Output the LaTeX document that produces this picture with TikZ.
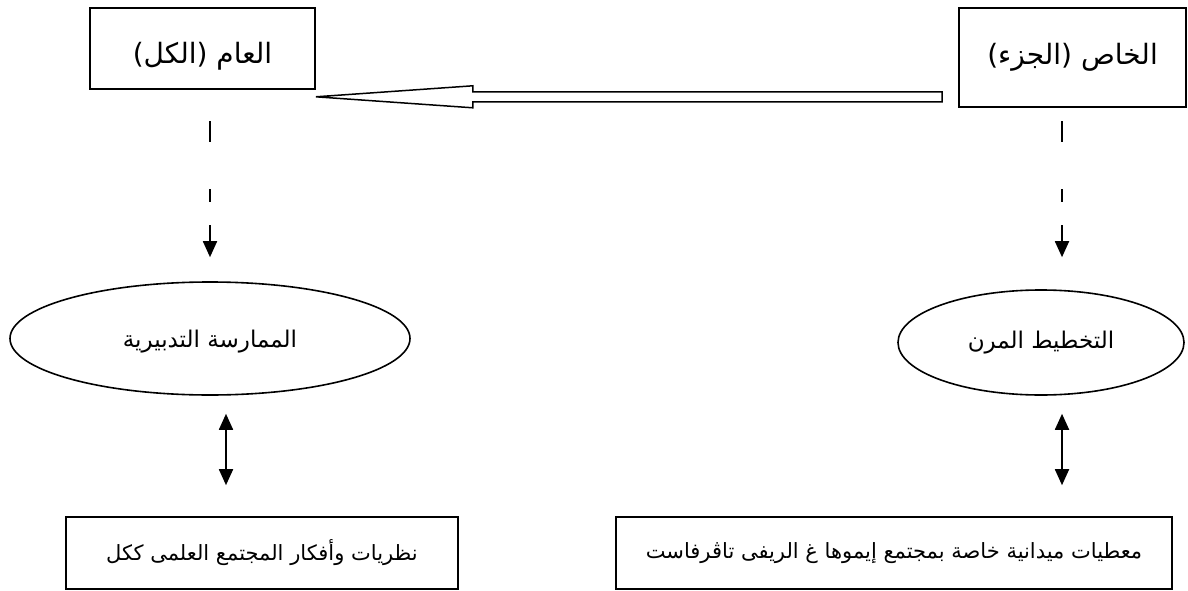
\documentclass[tikz,border=0pt]{standalone}
\usepackage{fontspec}
\newfontfamily\arabicfont[Script=Arabic]{DejaVu Sans}
\TeXXeTstate=1
\usetikzlibrary{arrows.meta,shapes.geometric}
\begin{document}
\begin{tikzpicture}[x=1pt,y=-1pt,
  topbox/.style={draw, line width=1.6pt, rectangle, inner sep=0pt, font=\arabicfont\fontsize{28}{32}\selectfont},
  botbox/.style={draw, line width=1.6pt, rectangle, inner sep=0pt, minimum height=72pt, font=\arabicfont\fontsize{21}{26}\selectfont},
  oval/.style={draw, line width=1.6pt, ellipse, inner sep=0pt, font=\arabicfont\fontsize{23}{28}\selectfont},
  hollow/.style={draw, line width=1.5pt, line join=miter, fill=white},
  dasharrow/.style={line width=1.8pt, dash pattern=on 21pt off 47pt on 13pt off 23pt on 60pt, -{Triangle[length=16pt,width=14pt]}},
  dblarrow/.style={line width=1.8pt, {Triangle[length=16pt,width=14pt]}-{Triangle[length=16pt,width=14pt]}}
]
\useasboundingbox (0,0) rectangle (1188,591);

\node[topbox, minimum width=225pt, minimum height=81pt] (L) at (202.5,48.5) {\raisebox{-8pt}[\height][\depth]{\beginR العام (الكل)\endR}};
\node[topbox, minimum width=227pt, minimum height=99pt] (R) at (1072.5,57.5) {\beginR الخاص (الجزء)\endR};

\node[oval, minimum width=400pt, minimum height=113pt] (Lell) at (210,338.5) {\raisebox{-3pt}[\height][\depth]{\beginR الممارسة التدبيرية\endR}};
\node[oval, minimum width=286pt, minimum height=105pt] (Rell) at (1041,342.5) {\beginR التخطيط المرن\endR};

\node[botbox, minimum width=392pt] (Lbox) at (262,553) {\beginR نظريات وأفكار المجتمع العلمى ككل\endR};
\node[botbox, minimum width=556pt] (Rbox) at (894,553) {\beginR معطيات ميدانية خاصة بمجتمع إيموها غ الريفى تاڤرفاست\endR};

% hollow arrow from R to L
\coordinate (tip) at ([yshift=-7pt]L.south east);
\coordinate (tail0) at (R.west |- tip);
\draw[hollow] (tip) -- ([xshift=157pt,yshift=11pt]tip) -- ([xshift=157pt,yshift=5pt]tip)
  -- ([xshift=-16pt,yshift=5pt]tail0) -- ([xshift=-16pt,yshift=-5pt]tail0)
  -- ([xshift=157pt,yshift=-5pt]tip) -- ([xshift=157pt,yshift=-11pt]tip) -- cycle;

% dashed arrows
\coordinate (ls) at ([yshift=160pt]Lell.north);
\draw[dasharrow] (ls) -- ([yshift=24pt]Lell.north);
\coordinate (rs) at ([xshift=21pt,yshift=168pt]Rell.north);
\coordinate (re) at ([xshift=21pt,yshift=32pt]Rell.north);
\draw[dasharrow] (rs) -- (re);

% double arrows
\coordinate (la) at ([xshift=16pt,yshift=-18pt]Lell.south);
\coordinate (lb) at ([yshift=31pt]Lbox.north);
\draw[dblarrow] (la) -- (la |- lb);
\coordinate (ra) at ([xshift=21pt,yshift=-18pt]Rell.south);
\coordinate (rb) at ([yshift=31pt]Rbox.north);
\draw[dblarrow] (ra) -- (ra |- rb);
\end{tikzpicture}
\end{document}
